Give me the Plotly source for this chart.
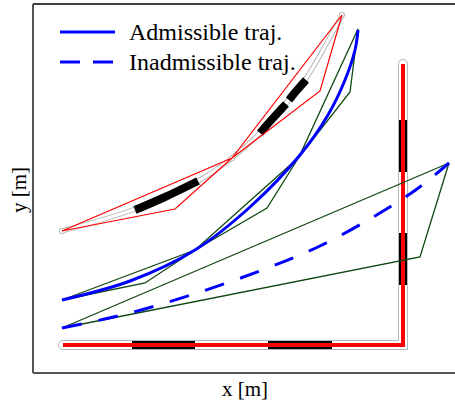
import plotly.graph_objects as go

# ---- data (metres) ----
road_x = [0.75, 9.25, 9.25]
road_y = [0.70, 0.70, 7.725]
road_block_bottom_x = [[2.475, 4.05], [5.875, 7.475]]
road_block_bottom_y = 0.70
road_block_vert_x = 9.25
road_block_vert_y = [[5.025, 6.325], [2.2, 3.5]]

upper_traj_x = [0.725, 2.55, 4.125, 4.975, 5.675, 6.35, 6.8, 7.725]
upper_traj_y = [3.55, 4.10, 4.80, 5.375, 6.0, 6.775, 7.325, 8.95]
upper_block_x = [[2.55, 3.3, 4.125], [5.675, 6.0, 6.325], [6.4, 6.6, 6.825]]
upper_block_y = [[4.075, 4.4, 4.80], [6.0, 6.37, 6.725], [6.825, 7.07, 7.325]]
red_poly_x = [0.725, 4.975, 7.725, 7.175, 4.975, 3.55, 0.725]
red_poly_y = [3.55, 5.375, 8.95, 7.05, 5.375, 4.10, 3.55]

adm_x = [0.725, 2.425, 4.05, 5.425, 6.675, 7.375, 7.8, 8.05, 8.125]
adm_y = [1.825, 2.3, 3.075, 4.15, 5.45, 6.45, 7.325, 8.075, 8.575]
adm_poly_x = [0.725, 4.05, 6.65, 8.125, 7.925, 6.65, 5.85, 4.05, 2.8, 0.725]
adm_poly_y = [1.825, 3.075, 5.4, 8.6, 7.025, 5.4, 4.125, 3.075, 2.25, 1.825]

inadm_x = [0.725, 2.425, 4.175, 5.8, 7.175, 8.55, 9.6, 10.4]
inadm_y = [1.125, 1.5, 2.025, 2.6, 3.175, 3.925, 4.6, 5.25]
inadm_poly_x = [0.725, 10.4, 9.675, 0.725]
inadm_poly_y = [1.125, 5.25, 2.9, 1.125]

legend_labels = ["Admissible traj.", "Inadmissible traj."]
axis_labels = ["x [m]", "y [m]"]

BLUE = "#0000ff"
RED = "#ff0000"
GREEN = "#0f480f"
GRAY = "#b8b8b8"
FONT = "Liberation Serif"

fig = go.Figure()

def add(x, y, color, width, dash=None, marker=None, mode="lines", shape="linear"):
    fig.add_trace(go.Scatter(
        x=x, y=y, mode=mode,
        line=dict(color=color, width=width, dash=dash, shape=shape,
                  smoothing=1.0 if shape == "spline" else None),
        marker=marker, showlegend=False, hoverinfo="skip"))

# road
add(road_x, road_y, GRAY, 10, mode="lines+markers",
    marker=dict(size=10, color=GRAY, line=dict(width=0)))
add(road_x, road_y, "white", 8, mode="lines+markers",
    marker=dict(size=8, color="white", line=dict(width=0)))
for seg in road_block_bottom_x:
    add(seg, [road_block_bottom_y] * 2, "black", 8)
for seg in road_block_vert_y:
    add([road_block_vert_x] * 2, seg, "black", 8)
add(road_x, road_y, RED, 4)

# upper trajectory (swept band)
add(upper_traj_x, upper_traj_y, GRAY, 5, mode="lines+markers", shape="spline",
    marker=dict(size=6, color=GRAY, line=dict(width=0)))
add(upper_traj_x, upper_traj_y, "white", 3, mode="lines+markers", shape="spline",
    marker=dict(size=4, color="white", line=dict(width=0)))
for bx, by in zip(upper_block_x, upper_block_y):
    add(bx, by, "black", 8, shape="spline")
add(red_poly_x, red_poly_y, RED, 1.2)

# admissible / inadmissible
add(adm_poly_x, adm_poly_y, GREEN, 1.3)
add(inadm_poly_x, inadm_poly_y, GREEN, 1.3)
add(adm_x, adm_y, BLUE, 3, shape="spline")
add(inadm_x, inadm_y, BLUE, 3, dash="20px,17px", shape="spline")

W, H = 455, 410
L, R, T, B = 33, 0, 4, 37
pw, ph = W - L - R, H - T - B

def px(xp):
    return (xp - L) / pw

def py(yp):
    return (H - B - yp) / ph

shapes = [
    dict(type="line", xref="paper", yref="paper", x0=0, x1=1, y0=1, y1=1,
         line=dict(color="black", width=1.5)),
    dict(type="line", xref="paper", yref="paper", x0=0, x1=0, y0=0, y1=1,
         line=dict(color="#555555", width=2)),
    dict(type="line", xref="paper", yref="paper", x0=0, x1=1, y0=0, y1=0,
         line=dict(color="#555555", width=2)),
    dict(type="line", xref="paper", yref="paper", x0=px(60), x1=px(115),
         y0=py(32), y1=py(32), line=dict(color=BLUE, width=3)),
    dict(type="line", xref="paper", yref="paper", x0=px(60), x1=px(115),
         y0=py(62), y1=py(62), line=dict(color=BLUE, width=3, dash="20px,13px")),
]

annotations = [
    dict(text=legend_labels[0], xref="paper", yref="paper", x=px(127), y=py(32),
         xanchor="left", yanchor="middle", showarrow=False,
         font=dict(family=FONT, size=24, color="black")),
    dict(text=legend_labels[1], xref="paper", yref="paper", x=px(127), y=py(62),
         xanchor="left", yanchor="middle", showarrow=False,
         font=dict(family=FONT, size=24, color="black")),
    dict(text=axis_labels[0], xref="paper", yref="paper", x=px(245), y=py(389),
         xanchor="center", yanchor="middle", showarrow=False,
         font=dict(family=FONT, size=21, color="black")),
    dict(text=axis_labels[1], xref="paper", yref="paper", x=px(19), y=py(190),
         xanchor="center", yanchor="middle", showarrow=False, textangle=-90,
         font=dict(family=FONT, size=21, color="black")),
]

fig.update_layout(
    width=W, height=H,
    margin=dict(l=L, r=R, t=T, b=B, pad=0),
    paper_bgcolor="white", plot_bgcolor="white",
    xaxis=dict(range=[0, pw / 40], showgrid=False, zeroline=False,
               showticklabels=False, ticks="", showline=False),
    yaxis=dict(range=[0, ph / 40], showgrid=False, zeroline=False,
               showticklabels=False, ticks="", showline=False),
    shapes=shapes, annotations=annotations, showlegend=False,
)

fig.write_html("out.html")
